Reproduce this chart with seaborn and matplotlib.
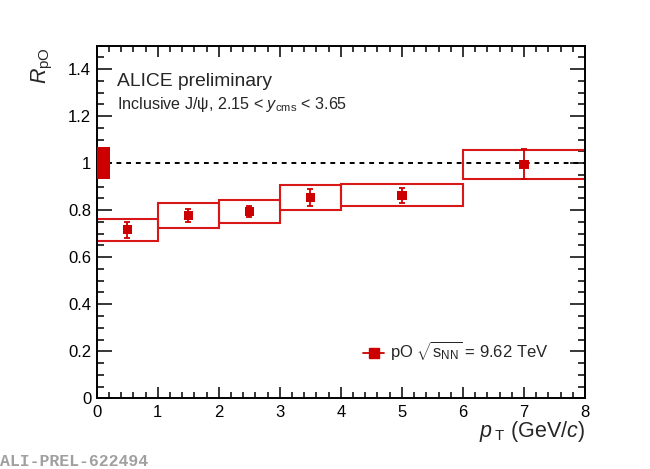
import matplotlib
matplotlib.use("Agg")
import matplotlib.pyplot as plt
from matplotlib.patches import Rectangle
from matplotlib.lines import Line2D
from matplotlib.ticker import MultipleLocator
import seaborn as sns

# --- dados ---
pt_lo = [0, 1, 2, 3, 4, 6]
pt_hi = [1, 2, 3, 4, 6, 8]
pt_center = [0.5, 1.5, 2.5, 3.5, 5.0, 7.0]
r_po = [0.717, 0.777, 0.795, 0.855, 0.863, 0.995]
stat_err = [0.034, 0.028, 0.025, 0.035, 0.032, 0.064]
syst_err = [0.047, 0.053, 0.049, 0.052, 0.047, 0.061]
global_err = 0.067
global_width = 0.21

RED = "#cc0000"
BOX_RED = "#d81818"

sns.set_theme(style="ticks")
plt.rcParams["font.family"] = ["Liberation Sans", "DejaVu Sans"]
plt.rcParams["mathtext.fontset"] = "custom"
plt.rcParams["mathtext.rm"] = "Liberation Sans"
plt.rcParams["mathtext.it"] = "Liberation Sans:italic"
plt.rcParams["mathtext.bf"] = "Liberation Sans:bold"

fig = plt.figure(figsize=(6.5, 4.69), dpi=100)
ax = fig.add_axes([0.1488, 0.1508, 0.7512, 0.7518])

# linha de referencia em 1
ax.axhline(1.0, color="black", lw=1.4, ls=(0, (2.5, 2.5)), zorder=1)

# caixas de incerteza sistematica
for lo, hi, y, s in zip(pt_lo, pt_hi, r_po, syst_err):
    ax.add_patch(Rectangle((lo, y - s), hi - lo, 2 * s, fill=False,
                           edgecolor=BOX_RED, lw=1.5, zorder=2))

# incerteza global
ax.add_patch(Rectangle((0, 1 - global_err), global_width, 2 * global_err,
                       facecolor=RED, edgecolor="none", zorder=3))

# barras estatisticas + pontos
ax.errorbar(pt_center, r_po, yerr=stat_err, fmt="none", ecolor=RED,
            elinewidth=1.3, capsize=2, capthick=1.3, zorder=4)
sns.scatterplot(x=pt_center, y=r_po, marker="s", color=RED, s=45,
                edgecolor="none", ax=ax, zorder=5, legend=False)

ax.set_xlim(0, 8)
ax.set_ylim(0, 1.5)
ax.xaxis.set_major_locator(MultipleLocator(1))
ax.xaxis.set_minor_locator(MultipleLocator(0.2))
ax.yaxis.set_major_locator(MultipleLocator(0.2))
ax.yaxis.set_minor_locator(MultipleLocator(0.05))
ax.set_yticks([0, 0.2, 0.4, 0.6, 0.8, 1.0, 1.2, 1.4])
ax.set_yticklabels(["0", "0.2", "0.4", "0.6", "0.8", "1", "1.2", "1.4"])

ax.tick_params(which="both", direction="in", top=True, right=True,
               color="black", width=1.1, labelsize=12, labelcolor="black")
ax.tick_params(axis="x", which="major", length=8, pad=5)
ax.tick_params(axis="x", which="minor", length=4.3)
ax.tick_params(axis="y", which="major", length=10.8, pad=4)
ax.tick_params(axis="y", which="minor", length=5)
for sp in ax.spines.values():
    sp.set_linewidth(1.4)
    sp.set_color("black")

ax.set_xlabel(r"$p_{\;\mathrm{T}}$ (GeV/$c$)", fontsize=15.5, loc="right")
ax.xaxis.set_label_coords(1.0, -0.06)
ax.set_ylabel(r"$R_{\mathrm{pO}}$", fontsize=15.5, loc="top")
ax.yaxis.set_label_coords(-0.086, 0.995)

ax.text(0.041, 0.8866, "ALICE preliminary", transform=ax.transAxes,
        fontsize=13.9, va="baseline", ha="left")
ax.text(0.041, 0.8196, r"Inclusive J/ψ, 2.15 < $y_{\mathrm{cms}}$ < 3.65",
        transform=ax.transAxes, fontsize=11.6, va="baseline", ha="left")

handle = Line2D([], [], color=RED, lw=1.3, marker="s", markersize=6.5,
                markeredgecolor=RED)
ax.legend([handle], [r"pO $\sqrt{\mathrm{s}_{\mathrm{NN}}}$ = 9.62 TeV"],
          loc="center left", bbox_to_anchor=(0.545, 0.132), frameon=False,
          fontsize=12, handlelength=1.3, handletextpad=0.35,
          borderpad=0, borderaxespad=0)

fig.text(0.0, 0.0, "ALI-PREL-622494", fontsize=11.9, color="#a0a0a0",
         family=["Liberation Mono", "DejaVu Sans Mono"], weight="bold",
         ha="left", va="bottom")

fig.savefig("out.png", dpi=100, facecolor="white")
